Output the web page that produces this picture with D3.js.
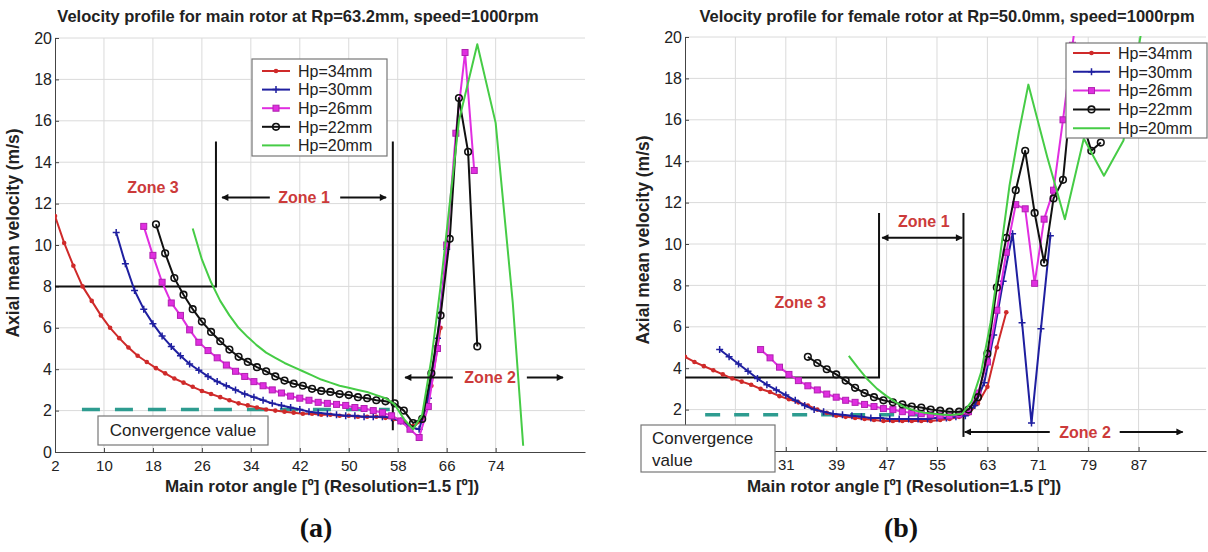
<!DOCTYPE html>
<html>
<head>
<meta charset="utf-8">
<script src="https://cdn.jsdelivr.net/npm/d3@7"></script>
<style>
  body { margin: 0; background: #fff; }
  svg { font-family: 'Liberation Sans', Arial, sans-serif; }
</style>
</head>
<body>
<svg id="chart" width="1208" height="552"></svg>
<script>
'use strict'

// ---- Data: [rotor angle (deg), axial mean velocity (m/s)] ----
const seriesNames = ['Hp=34mm', 'Hp=30mm', 'Hp=26mm', 'Hp=22mm', 'Hp=20mm']
const yTickValues = [0, 2, 4, 6, 8, 10, 12, 14, 16, 18, 20]
const mainTickValues = [2, 10, 18, 26, 34, 42, 50, 58, 66, 74]
const femaleTickValues = [15, 23, 31, 39, 47, 55, 63, 71, 79, 87]
// labels that stay visible (the others sit under the "Convergence value" box)
const femaleXLabels = [31, 39, 47, 55, 63, 71, 79, 87]
const femaleYLabels = [2, 4, 6, 8, 10, 12, 14, 16, 18, 20]

const mainHp34 = [[2,11.4],[3.5,10.1],[5,9.0],[6.5,8.0],[8,7.3],[9.5,6.6],[11,6.0],[12.5,5.5],[14,5.05],[15.5,4.65],[17,4.35],[18.5,4.05],[20,3.8],[21.5,3.55],[23,3.35],[24.5,3.15],[26,2.95],[27.5,2.8],[29,2.65],[30.5,2.5],[32,2.35],[33.5,2.25],[35,2.15],[36.5,2.05],[38,2.0],[39.5,1.95],[41,1.9],[42.5,1.85],[44,1.85],[45.5,1.8],[47,1.8],[48.5,1.75],[50,1.75],[51.5,1.7],[53,1.7],[54.5,1.7],[56,1.65],[57.5,1.6],[59,1.45],[60.5,1.25],[62,1.5],[63.5,3.2],[65,6.0]]
const mainHp30 = [[12,10.6],[13.5,9.1],[15,7.8],[16.5,6.9],[18,6.2],[19.5,5.6],[21,5.1],[22.5,4.65],[24,4.25],[25.5,3.95],[27,3.65],[28.5,3.4],[30,3.2],[31.5,3.0],[33,2.8],[34.5,2.65],[36,2.5],[37.5,2.35],[39,2.25],[40.5,2.15],[42,2.05],[43.5,1.95],[45,1.9],[46.5,1.85],[48,1.8],[49.5,1.75],[51,1.75],[52.5,1.7],[54,1.7],[55.5,1.7],[57,1.65],[58.5,1.5],[60,1.2],[61.5,1.1],[63,2.6],[64.5,5.5],[66,9.8]]
const mainHp26 = [[16.5,10.9],[18,9.5],[19.5,8.2],[21,7.2],[22.5,6.6],[24,5.9],[25.5,5.3],[27,4.9],[28.5,4.55],[30,4.2],[31.5,3.9],[33,3.65],[34.5,3.4],[36,3.2],[37.5,3.0],[39,2.85],[40.5,2.7],[42,2.6],[43.5,2.5],[45,2.4],[46.5,2.35],[48,2.3],[49.5,2.25],[51,2.15],[52.5,2.1],[54,2.0],[55.5,1.9],[57,1.75],[58.5,1.5],[60,1.1],[61.5,0.7],[63,2.2],[64.5,5.0],[66,10.0],[67.5,15.4],[69,19.3],[70.5,13.6]]
const mainHp22 = [[18.5,11.0],[20,9.6],[21.5,8.4],[23,7.6],[24.5,6.9],[26,6.3],[27.5,5.8],[29,5.35],[30.5,4.95],[32,4.6],[33.5,4.35],[35,4.1],[36.5,3.9],[38,3.65],[39.5,3.45],[41,3.3],[42.5,3.2],[44,3.05],[45.5,2.95],[47,2.9],[48.5,2.8],[50,2.75],[51.5,2.65],[53,2.6],[54.5,2.5],[56,2.45],[57.5,2.35],[59,2.0],[60.5,1.4],[62,1.6],[63.5,3.8],[65,6.6],[66.5,10.3],[68,17.1],[69.5,14.5],[71,5.1]]
const mainHp20 = [[24.5,10.8],[26,9.3],[27.5,8.2],[29,7.3],[30.5,6.6],[32,6.0],[33.5,5.55],[35,5.15],[36.5,4.8],[38,4.55],[39.5,4.3],[41,4.1],[42.5,3.9],[44,3.7],[45.5,3.5],[47,3.35],[48.5,3.2],[50,3.1],[51.5,3.0],[53,2.9],[54.5,2.75],[56,2.6],[57.5,2.3],[59,1.6],[60.5,1.1],[62,1.8],[63.5,4.5],[65,8.0],[66.5,12.0],[68,16.0],[71,19.7],[74,15.9],[76.8,7.2],[78.5,0.3]]

const femaleHp34 = [[15,4.55],[16.5,4.3],[18,4.1],[19.5,3.9],[21,3.7],[22.5,3.5],[24,3.35],[25.5,3.2],[27,3.0],[28.5,2.85],[30,2.65],[31.5,2.5],[33,2.35],[34.5,2.2],[36,2.0],[37.5,1.85],[39,1.7],[40.5,1.65],[42,1.6],[43.5,1.55],[45,1.5],[46.5,1.45],[48,1.45],[49.5,1.45],[51,1.45],[52.5,1.45],[54,1.45],[55.5,1.5],[57,1.55],[58.5,1.65],[60,1.8],[61.5,2.3],[63,3.1],[64.5,5.0],[66,6.7]]
const femaleHp30 = [[20.5,4.9],[22,4.55],[23.5,4.2],[25,3.85],[26.5,3.5],[28,3.2],[29.5,2.95],[31,2.7],[32.5,2.45],[34,2.2],[35.5,2.0],[37,1.9],[38.5,1.8],[40,1.75],[41.5,1.7],[43,1.65],[44.5,1.6],[46,1.6],[47.5,1.55],[49,1.55],[50.5,1.55],[52,1.55],[53.5,1.55],[55,1.6],[56.5,1.6],[58,1.65],[59.5,1.7],[61,2.2],[62.5,3.3],[64,5.6],[65.5,8.2],[67,10.5],[68.5,6.2],[70,1.35],[71.5,5.9],[73,10.4]]
const femaleHp26 = [[27,4.9],[28.5,4.5],[30,4.05],[31.5,3.7],[33,3.4],[34.5,3.15],[36,2.95],[37.5,2.75],[39,2.6],[40.5,2.45],[42,2.35],[43.5,2.25],[45,2.15],[46.5,2.05],[48,2.0],[49.5,1.9],[51,1.85],[52.5,1.8],[54,1.75],[55.5,1.7],[57,1.7],[58.5,1.75],[60,1.9],[61.5,2.8],[63,4.3],[64.5,6.8],[66,9.6],[67.5,11.9],[69,11.7],[70.5,8.1],[72,11.2],[73.5,12.6],[75,16.0],[76.5,19.6],[78,23.0]]
const femaleHp22 = [[34.5,4.55],[36,4.25],[37.5,3.95],[39,3.7],[40.5,3.4],[42,3.05],[43.5,2.8],[45,2.6],[46.5,2.45],[48,2.35],[49.5,2.25],[51,2.15],[52.5,2.1],[54,2.0],[55.5,1.95],[57,1.9],[58.5,1.9],[60,2.0],[61.5,2.6],[63,4.7],[64.5,7.9],[66,10.3],[67.5,12.6],[69,14.5],[70.5,11.5],[72,9.1],[73.5,12.2],[75,13.1],[76.5,17.8],[78,16.0],[79.5,14.5],[81,14.9]]
const femaleHp20 = [[41,4.6],[42.5,4.0],[44,3.45],[45.5,3.0],[47,2.65],[48.5,2.35],[50,2.1],[51.5,1.95],[53,1.85],[54.5,1.8],[56,1.75],[57.5,1.75],[59,1.8],[60.5,2.4],[62,3.8],[63.5,6.2],[65,9.4],[66.5,12.8],[68,15.4],[69.5,17.7],[72.5,14.2],[75.3,11.2],[78.3,15.1],[81.5,13.3],[84.6,15.0],[87.5,20.4]]

// ---- Styles ----
const seriesStyles = [
  { color: '#cf2a2a', marker: 'dot' },
  { color: '#1f1fa0', marker: 'plus' },
  { color: '#e02ee0', marker: 'square' },
  { color: '#111111', marker: 'circle' },
  { color: '#46cc46', marker: null },
]
const zoneColor = '#cc3a3a'
const convergenceColor = '#2e9c90'

const svg = d3.select('#chart')

svg
  .append('defs')
  .append('marker')
  .attr('id', 'arrowHead')
  .attr('viewBox', '0 0 10 10')
  .attr('refX', 9)
  .attr('refY', 5)
  .attr('markerWidth', 10)
  .attr('markerHeight', 7)
  .attr('markerUnits', 'userSpaceOnUse')
  .attr('orient', 'auto-start-reverse')
  .append('path')
  .attr('d', 'M0,0L10,5L0,10z')
  .attr('fill', '#111')

function addMarker(sel, type, color) {
  if (type === 'dot') {
    sel.append('circle').attr('r', 2.3).attr('fill', color)
  } else if (type === 'plus') {
    sel.append('path').attr('d', 'M-3.5,0H3.5M0,-3.5V3.5')
      .attr('stroke', color).attr('stroke-width', 1.5)
  } else if (type === 'square') {
    sel.append('rect').attr('x', -3).attr('y', -3).attr('width', 6).attr('height', 6)
      .attr('fill', color).attr('stroke', '#b020b0')
  } else if (type === 'circle') {
    sel.append('circle').attr('r', 3.3).attr('fill', 'none')
      .attr('stroke', color).attr('stroke-width', 1.6)
  }
}

function drawPanel(cfg) {
  const x = d3.scaleLinear().domain(cfg.xDomain).range(cfg.xRange)
  const y = d3.scaleLinear().domain([0, 20]).range(cfg.yRange)
  const [left, right] = cfg.xRange
  const [bottom, top] = cfg.yRange
  const g = svg.append('g')

  // Grid
  g.append('g')
    .selectAll('line')
    .data(yTickValues.slice(1))
    .join('line')
    .attr('x1', left).attr('x2', right)
    .attr('y1', (d) => y(d)).attr('y2', (d) => y(d))
    .attr('stroke', '#dadada')
  g.append('g')
    .selectAll('line')
    .data(cfg.xTicks.slice(1))
    .join('line')
    .attr('x1', (d) => x(d)).attr('x2', (d) => x(d))
    .attr('y1', bottom).attr('y2', top)
    .attr('stroke', '#dadada')

  // Axes
  const xAxisGroup = g.append('g')
    .attr('transform', `translate(0,${bottom})`)
    .call(d3.axisBottom(x).tickValues(cfg.xLabels).tickSizeInner(-4).tickSizeOuter(0).tickPadding(8))
  const yAxisGroup = g.append('g')
    .attr('transform', `translate(${left},0)`)
    .call(d3.axisLeft(y).tickValues(cfg.yLabels).tickSizeInner(-4).tickSizeOuter(0).tickPadding(3))
  ;[xAxisGroup, yAxisGroup].forEach((ax) => {
    ax.select('.domain').attr('stroke', '#444')
    ax.selectAll('.tick line').attr('stroke', '#444')
    ax.selectAll('.tick text').attr('fill', '#222').style('font-family', null)
  })
  xAxisGroup.selectAll('.tick text').attr('font-size', 15)
  yAxisGroup.selectAll('.tick text').attr('font-size', 16)

  // Annotation lines (data coordinates)
  const line = d3.line().x((d) => x(d[0])).y((d) => y(d[1]))
  g.append('path').datum(cfg.zone3Box).attr('d', line)
    .attr('fill', 'none').attr('stroke', '#111').attr('stroke-width', 2)
  g.append('path').datum(cfg.divider).attr('d', line)
    .attr('fill', 'none').attr('stroke', '#111').attr('stroke-width', 2)
  g.append('path').datum(cfg.convergence).attr('d', line)
    .attr('fill', 'none').attr('stroke', convergenceColor)
    .attr('stroke-width', 3.5).attr('stroke-dasharray', cfg.dash)

  // Series
  g.append('clipPath').attr('id', cfg.id + '-clip')
    .append('rect').attr('x', left).attr('y', top - 1)
    .attr('width', right - left).attr('height', bottom - top + 1)
  const plot = g.append('g').attr('clip-path', `url(#${cfg.id}-clip)`)
  cfg.series.forEach((data, i) => {
    const st = seriesStyles[i]
    plot.append('path').datum(data).attr('d', line)
      .attr('fill', 'none').attr('stroke', st.color).attr('stroke-width', 2)
      .attr('stroke-linejoin', 'round')
    if (st.marker) {
      plot.append('g')
        .selectAll('g')
        .data(data)
        .join('g')
        .attr('transform', (d) => `translate(${x(d[0])},${y(d[1])})`)
        .each(function () { addMarker(d3.select(this), st.marker, st.color) })
    }
  })

  // Arrows
  cfg.arrows.forEach((a) => {
    g.append('path').datum(a.points).attr('d', line)
      .attr('fill', 'none').attr('stroke', '#111').attr('stroke-width', 2)
      .attr('marker-end', 'url(#arrowHead)')
      .attr('marker-start', a.both ? 'url(#arrowHead)' : null)
  })

  // Zone labels
  cfg.zoneLabels.forEach((z) => {
    g.append('text').attr('x', x(z.at[0])).attr('y', y(z.at[1]))
      .attr('dy', '0.35em').attr('text-anchor', 'middle')
      .attr('font-size', 16).attr('font-weight', 'bold').attr('fill', zoneColor)
      .text(z.text)
  })

  // Convergence value box
  const cb = cfg.convBox
  g.append('rect').attr('x', cb.x).attr('y', cb.y).attr('width', cb.w).attr('height', cb.h)
    .attr('fill', '#fff').attr('stroke', '#777').attr('stroke-width', 1.2)
  cb.lines.forEach((t, i) => {
    g.append('text').attr('x', cb.tx).attr('y', cb.ty + i * 22)
      .attr('text-anchor', cb.anchor).attr('font-size', 17).attr('fill', '#222')
      .text(t)
  })

  // Legend
  const lg = cfg.legend
  g.append('rect').attr('x', lg.x).attr('y', lg.y).attr('width', lg.w).attr('height', lg.h)
    .attr('fill', '#fff').attr('stroke', '#777').attr('stroke-width', 1.2)
  seriesNames.forEach((name, i) => {
    const ry = lg.y + lg.first + i * lg.step
    const st = seriesStyles[i]
    g.append('line').attr('x1', lg.x + lg.l1).attr('x2', lg.x + lg.l2)
      .attr('y1', ry).attr('y2', ry).attr('stroke', st.color).attr('stroke-width', 2)
    if (st.marker) {
      addMarker(g.append('g').attr('transform', `translate(${lg.x + (lg.l1 + lg.l2) / 2},${ry})`), st.marker, st.color)
    }
    g.append('text').attr('x', lg.x + lg.tx).attr('y', ry).attr('dy', '0.36em')
      .attr('font-size', 16).attr('fill', '#222').text(name)
  })

  // Titles and labels
  g.append('text').attr('x', cfg.titleX).attr('y', 22)
    .attr('text-anchor', 'middle').attr('font-size', 16.5).attr('font-weight', 'bold')
    .attr('fill', '#222').text(cfg.title)
  g.append('text').attr('transform', `translate(${cfg.yLabelX},${cfg.yLabelY}) rotate(-90)`)
    .attr('text-anchor', 'middle').attr('font-size', 17.5).attr('font-weight', 'bold')
    .attr('fill', '#222').text('Axial mean velocity (m/s)')
  g.append('text').attr('x', cfg.xLabelX).attr('y', 492)
    .attr('text-anchor', 'middle').attr('font-size', 17).attr('font-weight', 'bold')
    .attr('fill', '#222').text('Main rotor angle [º] (Resolution=1.5 [º])')
  g.append('text').attr('x', cfg.captionX).attr('y', 537)
    .attr('text-anchor', 'middle').attr('font-size', 28).attr('font-weight', 'bold')
    .attr('font-family', "'Liberation Serif', 'Times New Roman', serif")
    .attr('fill', '#111').text(cfg.caption)
}

drawPanel({
  id: 'main',
  xDomain: [2, 88.6],
  xRange: [55, 585],
  yRange: [452, 38],
  xTicks: mainTickValues,
  xLabels: mainTickValues,
  yLabels: yTickValues,
  series: [mainHp34, mainHp30, mainHp26, mainHp22, mainHp20],
  zone3Box: [[2, 8], [28.3, 8], [28.3, 15]],
  divider: [[57.2, 15], [57.2, 1.05]],
  convergence: [[6.4, 2.05], [56.7, 2.05]],
  dash: '18,15',
  arrows: [
    { points: [[37.1, 12.3], [29.3, 12.3]] },
    { points: [[48.6, 12.3], [56.1, 12.3]] },
    { points: [[67.0, 3.6], [59.2, 3.6]] },
    { points: [[79.1, 3.6], [85.0, 3.6]] },
  ],
  zoneLabels: [
    { text: 'Zone 1', at: [42.7, 12.3] },
    { text: 'Zone 3', at: [18.0, 12.8] },
    { text: 'Zone 2', at: [73.1, 3.6] },
  ],
  convBox: { x: 98, y: 416, w: 170, h: 29, tx: 183, ty: 436, anchor: 'middle', lines: ['Convergence value'] },
  legend: { x: 252, y: 59, w: 135, h: 97, first: 12, step: 18.6, l1: 10, l2: 38, tx: 46 },
  title: 'Velocity profile for main rotor at Rp=63.2mm, speed=1000rpm',
  titleX: 298,
  yLabelX: 19,
  yLabelY: 233,
  xLabelX: 322,
  captionX: 316,
  caption: '(a)',
})

drawPanel({
  id: 'female',
  xDomain: [15, 97.7],
  xRange: [685, 1206],
  yRange: [451, 37],
  xTicks: femaleTickValues,
  xLabels: femaleXLabels,
  yLabels: femaleYLabels,
  series: [femaleHp34, femaleHp30, femaleHp26, femaleHp22, femaleHp20],
  zone3Box: [[15, 3.55], [45.8, 3.55], [45.8, 11.5]],
  divider: [[59.2, 11.5], [59.2, 0.68]],
  convergence: [[18.2, 1.75], [53.9, 1.75]],
  dash: '15,14',
  arrows: [
    { points: [[46.3, 10.3], [59.0, 10.3]], both: true },
    { points: [[72.9, 0.92], [59.4, 0.92]] },
    { points: [[84.0, 0.92], [94.0, 0.92]] },
  ],
  zoneLabels: [
    { text: 'Zone 1', at: [52.9, 11.1] },
    { text: 'Zone 3', at: [33.3, 7.2] },
    { text: 'Zone 2', at: [78.5, 0.92] },
  ],
  convBox: { x: 641, y: 425, w: 134, h: 47, tx: 652, ty: 444, anchor: 'start', lines: ['Convergence', 'value'] },
  legend: { x: 1066, y: 43, w: 141, h: 95, first: 10, step: 18.8, l1: 7, l2: 44, tx: 52 },
  title: 'Velocity profile for female rotor at Rp=50.0mm, speed=1000rpm',
  titleX: 947,
  yLabelX: 649,
  yLabelY: 240,
  xLabelX: 904,
  captionX: 901,
  caption: '(b)',
})
</script>
</body>
</html>
